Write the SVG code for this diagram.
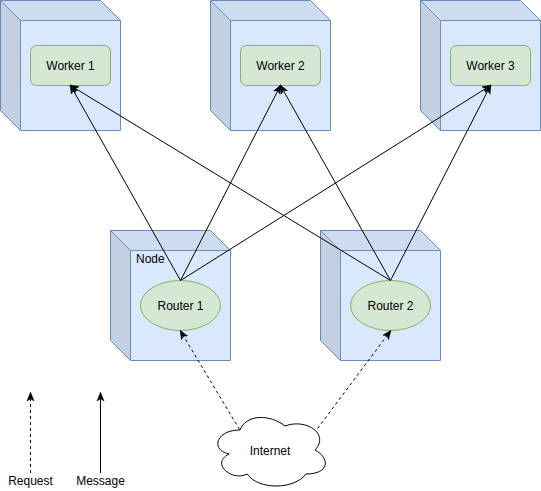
<svg xmlns="http://www.w3.org/2000/svg" width="541" height="491" viewBox="0 0 541 491">
<style>
text{font-family:"Liberation Sans",Arial,sans-serif;font-size:12px;fill:#000}
.cube{fill:#dae8fc;stroke:#6c8ebf;stroke-width:1}
.top{fill:#000;fill-opacity:0.05;stroke:none}
.left{fill:#000;fill-opacity:0.1;stroke:none}
.inner{fill:none;stroke:#6c8ebf;stroke-width:1}
.green{fill:#d5e8d4;stroke:#82b366;stroke-width:1}
.msg{fill:none;stroke:#000;stroke-width:1;marker-end:url(#arr)}
.req{fill:none;stroke:#000;stroke-width:1;stroke-dasharray:3 3;marker-end:url(#arr)}
</style>
<defs>
<marker id="arr" viewBox="0 0 10 10" refX="9" refY="5" markerWidth="9" markerHeight="9" markerUnits="userSpaceOnUse" orient="auto">
<path d="M0,1 L10,5 L0,9 L2.5,5 Z" fill="#000" stroke="#000" stroke-width="0.5"/>
</marker>
<g id="cube">
<path class="cube" d="M0,0 L100,0 L120,20 L120,130 L20,130 L0,110 Z"/>
<path class="top" d="M0,0 L100,0 L120,20 L20,20 Z"/>
<path class="left" d="M0,0 L20,20 L20,130 L0,110 Z"/>
<path class="inner" d="M0,0 L20,20 L120,20 M20,20 L20,130"/>
</g>
</defs>
<g id="worker1">
<use href="#cube" x="0.5" y="0.5"/>
<rect class="green" x="30.5" y="45.5" width="80" height="40" rx="6"/>
<text x="70.5" y="69.5" text-anchor="middle">Worker 1</text>
</g>
<g id="worker2">
<use href="#cube" x="210.5" y="0.5"/>
<rect class="green" x="240.5" y="45.5" width="80" height="40" rx="6"/>
<text x="280.5" y="69.5" text-anchor="middle">Worker 2</text>
</g>
<g id="worker3">
<use href="#cube" x="420.5" y="0.5"/>
<rect class="green" x="450.5" y="45.5" width="80" height="40" rx="6"/>
<text x="490.5" y="69.5" text-anchor="middle">Worker 3</text>
</g>
<g id="node1">
<use href="#cube" x="110.5" y="230.5"/>
<text x="136" y="263">Node</text>
</g>
<g id="router1">
<ellipse class="green" cx="180.5" cy="305.5" rx="40" ry="25"/>
<text x="180.5" y="309.5" text-anchor="middle">Router 1</text>
</g>
<g id="node2">
<use href="#cube" x="320.5" y="230.5"/>
</g>
<g id="router2">
<ellipse class="green" cx="390.5" cy="305.5" rx="40" ry="25"/>
<text x="390.5" y="309.5" text-anchor="middle">Router 2</text>
</g>
<g id="internet">
<path fill="#fff" stroke="#000" stroke-width="1" d="M240,430 C216,430 210,450 229.2,454 C210,462.8 231.6,482 247.2,474 C258,490 294,490 306,474 C330,474 330,458 315,450 C330,434 306,418 285,426 C270,414 246,414 240,430 Z"/>
<text x="270" y="455" text-anchor="middle">Internet</text>
</g>
<g id="connectors">
<path class="msg" d="M180.5,280.5 L70.5,85.5"/>
<path class="msg" d="M180.5,280.5 L280.5,85.5"/>
<path class="msg" d="M180.5,280.5 L490.5,85.5"/>
<path class="msg" d="M390.5,280.5 L70.5,85.5"/>
<path class="msg" d="M390.5,280.5 L280.5,85.5"/>
<path class="msg" d="M390.5,280.5 L490.5,85.5"/>
<path class="req" d="M239.5,429.5 L180.5,331"/>
<path class="req" d="M317.5,428.5 L390.5,331"/>
</g>
<g id="legend">
<path class="req" d="M30.5,473 L30.5,393"/>
<text x="30.5" y="485" text-anchor="middle" font-size="11">Request</text>
<path class="msg" d="M100.5,473 L100.5,393"/>
<text x="100.5" y="485" text-anchor="middle" font-size="11">Message</text>
</g>
</svg>
